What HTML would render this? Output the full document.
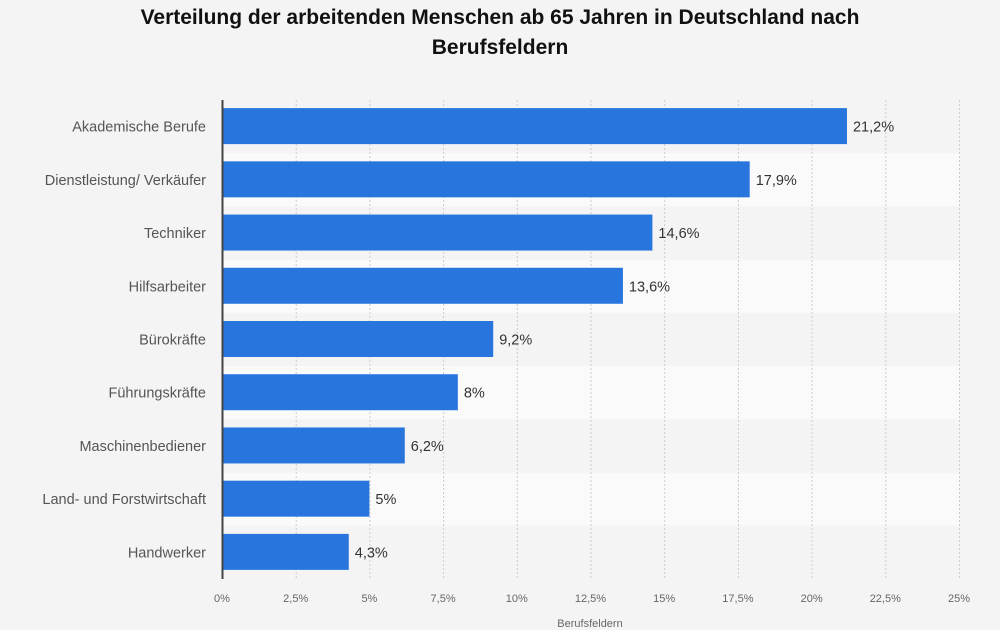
<!DOCTYPE html>
<html><head><meta charset="utf-8"><style>
html,body{margin:0;padding:0;background:#f4f4f4;}
svg{display:block;font-family:"Liberation Sans",Arial,sans-serif;}
</style></head><body>
<svg id="chart" width="1000" height="630">
<text x="500" y="24" text-anchor="middle" font-size="21" font-weight="bold" fill="#111">Verteilung der arbeitenden Menschen ab 65 Jahren in Deutschland nach</text>
<text x="500" y="54" text-anchor="middle" font-size="21" font-weight="bold" fill="#111">Berufsfeldern</text>
<g id="bands"></g><g id="grid"></g><g id="bars"></g><g id="labels"></g><g id="ticks"></g>
<line x1="222.5" y1="100" x2="222.5" y2="579" stroke="#444" stroke-width="2"/>
<text x="590" y="627" text-anchor="middle" font-size="11" fill="#666">Berufsfeldern</text>
</svg>
<script>
const categories=["Akademische Berufe","Dienstleistung/ Verkäufer","Techniker","Hilfsarbeiter","Bürokräfte","Führungskräfte","Maschinenbediener","Land- und Forstwirtschaft","Handwerker"];
const values=[21.2,17.9,14.6,13.6,9.2,8,6.2,5,4.3];
const valueLabels=["21,2%","17,9%","14,6%","13,6%","9,2%","8%","6,2%","5%","4,3%"];
const ticks=[0,2.5,5,7.5,10,12.5,15,17.5,20,22.5,25];
const tickLabels=["0%","2,5%","5%","7,5%","10%","12,5%","15%","17,5%","20%","22,5%","25%"];
const NS="http://www.w3.org/2000/svg";
const x0=222,x1=959,plotTop=100,plotBottom=579;
const x=v=>x0+(x1-x0)*v/25;
const step=(plotBottom-plotTop)/categories.length;
const y=i=>plotTop+i*step;
function mk(t,a,p){const e=document.createElementNS(NS,t);for(const k in a)e.setAttribute(k,a[k]);document.getElementById(p).appendChild(e);return e;}
categories.forEach((c,i)=>{
  const b=mk('rect',{x:x0,y:y(i),width:960-x0,height:step,fill:i%2?'#fafafa':'#f4f4f4'},'bands');
  
  
});
ticks.forEach((t,i)=>{
  if(i>0){const g=mk('line',{x1:x(t)+0.5,y1:plotTop,x2:x(t)+0.5,y2:plotBottom,stroke:'#ccc','stroke-dasharray':'2,2'},'grid');
  
  }
  const tl=mk('text',{x:x(t),y:602,'text-anchor':'middle','font-size':11,fill:'#666'},'ticks');tl.textContent=tickLabels[i];
  
  
});
categories.forEach((c,i)=>{
  const cy=y(i)+step/2;
  const r=mk('rect',{x:x0,y:cy-18.5,width:x(values[i])-x0,height:36,fill:'#2876dd'},'bars');
  
  
  const v=mk('text',{x:x(values[i])+6,y:cy+5,'font-size':14.5,fill:'#333'},'labels');v.textContent=valueLabels[i];
  
  
  const l=mk('text',{x:206,y:cy+5,'text-anchor':'end','font-size':14.5,fill:'#555'},'labels');l.textContent=c;
  
  
});
</script>
</body></html>
